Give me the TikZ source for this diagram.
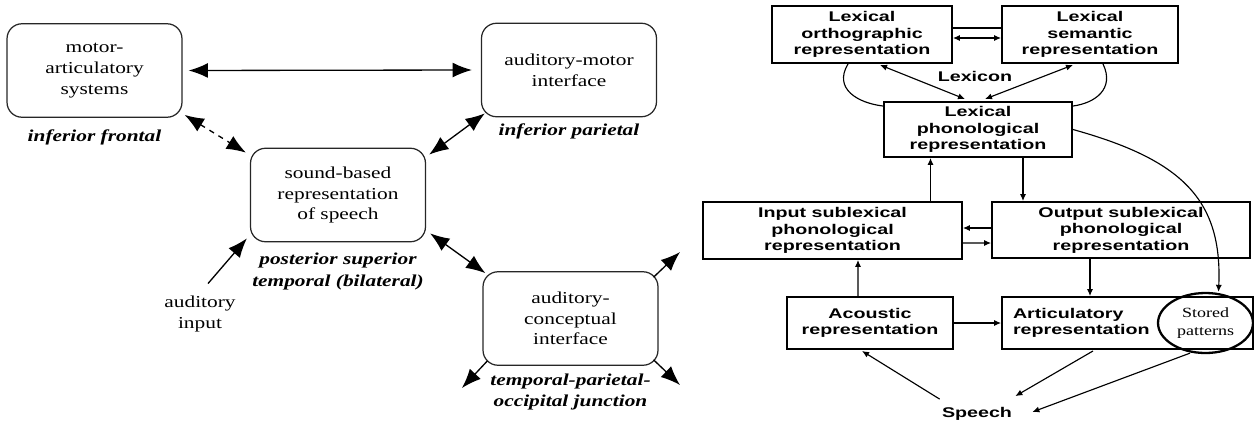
\documentclass[tikz,border=0pt]{standalone}
\usepackage{fontspec}
\setmainfont{Liberation Serif}
\newfontfamily\regfont{Liberation Serif}[FakeStretch=1.28]
\newfontfamily\modfont{Liberation Sans}[FakeStretch=1.4]
\usetikzlibrary{arrows.meta,positioning,shapes.geometric}

\begin{document}
\begin{tikzpicture}[x=0.02cm, y=-0.02cm,
  lbox/.style={rectangle, draw=black!85, line width=0.7pt, rounded corners=0.3cm,
               minimum width=3.5cm, minimum height=1.87cm, inner sep=0pt,
               font=\regfont\fontsize{9.5}{11.8}\selectfont, align=center},
  region/.style={font=\regfont\fontsize{9.5}{12.2}\selectfont\bfseries\itshape,
                 align=center, inner sep=0pt},
  plain/.style={font=\regfont\fontsize{9.5}{12}\selectfont, align=center, inner sep=0pt},
  one/.style={-{Latex[length=11pt,width=8.5pt]}, line width=0.75pt},
  both/.style={{Latex[length=11pt,width=8.5pt]}-{Latex[length=11pt,width=8.5pt]}, line width=0.75pt},
  sbox/.style={rectangle, draw, line width=1.1pt, inner sep=0pt,
               font=\modfont\fontsize{8}{9.4}\selectfont\bfseries, align=center},
  word/.style={font=\modfont\fontsize{8}{9.4}\selectfont\bfseries, inner sep=0pt},
  sarr/.style={-{Latex[length=4pt,width=3.5pt]}, line width=0.65pt},
  sboth/.style={{Latex[length=4pt,width=3.5pt]}-{Latex[length=4pt,width=3.5pt]}, line width=0.65pt}
]
\useasboundingbox (0,0) rectangle (1254,423);

% Left: regions
\node[lbox] (motor) at (94.5,70.5) {motor-\\articulatory\\systems};
\node[lbox] (audmot) at (569,70) {auditory-motor\\interface};
\node[lbox] (sound) at (338,195) {sound-based\\representation\\of speech};
\node[lbox] (audcon) at (570.5,318.5) {auditory-\\conceptual\\interface};

\node[region, below=0.23cm of motor] (motorlbl) {inferior frontal};
\node[region, below=0.13cm of audmot] (audmotlbl) {inferior parietal};
\node[region, below=0.21cm of sound] (soundlbl) {posterior superior\\temporal (bilateral)};
\node[region, below=0.15cm of audcon] (audconlbl) {temporal-parietal-\\occipital junction};
\node[plain] (audin) at (200,314) {auditory\\input};

\coordinate (outne) at (680,252);
\coordinate (outsw) at (462,388);
\coordinate (outse) at (680,385);

\draw[both] ([shift={(6,0)}]motor.east) -- ([shift={(-9,0)}]audmot.west);
\draw[both, dash pattern=on 3pt off 3pt] ([shift={(2,-3)}]motor.south east) -- ([shift={(-4,5)}]sound.north west);
\draw[both] ([shift={(4,-4)}]audmot.south west) -- ([shift={(3,7)}]sound.north east);
\draw[both] ([shift={(4,-9)}]sound.south east) -- ([shift={(3,2)}]audcon.north west);
\draw[one] ([shift={(8,-12)}]audin.north) -- ([shift={(-3,-4)}]sound.south west);
\draw[one] ([shift={(-5,6)}]audcon.north east) -- (outne);
\draw[one] ([shift={(5,-5)}]audcon.south west) -- (outsw);
\draw[one] ([shift={(-5,-6)}]audcon.south east) -- (outse);

% Right: lexicon and sublexical levels
\node[sbox, minimum width=3.6cm, minimum height=1.14cm] (orth) at (862,34.5) {Lexical\\orthographic\\representation};
\node[sbox, minimum width=3.52cm, minimum height=1.14cm] (sem) at (1090,34.5) {Lexical\\semantic\\representation};
\node[word] (lexicon) at (975,76) {Lexicon};
\node[sbox, minimum width=3.76cm, minimum height=1.1cm] (phon) at (978,129.5) {Lexical\\phonological\\representation};
\node[sbox, minimum width=5.18cm, minimum height=1.14cm] (insub) at (832.5,230.5) {Input sublexical\\phonological\\representation};
\node[sbox, minimum width=5.16cm, minimum height=1.12cm] (outsub) at (1121,230) {Output sublexical\\phonological\\representation};
\node[sbox, minimum width=3.32cm, minimum height=1.04cm] (acou) at (870,323) {Acoustic\\representation};
\node[sbox, minimum height=1.04cm, inner xsep=0.22cm, text width=4.58cm, align=left] (artic) at (1127.5,323) {Articulatory\\representation};
\node[ellipse, draw, line width=1.3pt, minimum width=1.9cm, minimum height=1.2cm, inner sep=0pt,
      font=\regfont\fontsize{8}{10}\selectfont, align=center] (stored) at (1205.5,323) {Stored\\patterns};
\node[word] (speech) at (977,414) {Speech};

\draw[line width=0.65pt] ([shift={(0,-6.5)}]orth.east) -- ([shift={(0,-6.5)}]sem.west);
\draw[sboth] ([shift={(0,3.5)}]orth.east) -- ([shift={(0,3.5)}]sem.west);
\draw[sboth] ([shift={(18,1)}]orth.south) -- ([shift={(-13,-2)}]phon.north);
\draw[sboth] ([shift={(-17,1)}]sem.south) -- ([shift={(7,-2)}]phon.north);
\draw[line width=0.65pt] ([shift={(-14,0)}]orth.south) .. controls +(-15,25) and +(-25,-3) .. ([shift={(0,5)}]phon.north west);
\draw[line width=0.65pt] ([shift={(13,0)}]sem.south) .. controls +(12,25) and +(22,-3) .. ([shift={(0,5)}]phon.north east);
\draw[sarr] (phon.east) .. controls +(108,30) and +(4,-93) .. ([shift={(13,0)}]stored.north);
\draw[sarr] ([shift={(-47.5,45)}]phon.south) -- ([shift={(-47.5,0)}]phon.south);
\draw[sarr] ([shift={(45,0)}]phon.south) -- ([shift={(-98,0)}]outsub.north);
\draw[sarr] ([shift={(0,-2)}]outsub.west) -- ([shift={(0,-2.5)}]insub.east);
\draw[sarr] ([shift={(0,12.5)}]insub.east) -- ([shift={(0,13)}]outsub.west);
\draw[sarr] ([shift={(-12,0)}]acou.north) -- ([shift={(25.5,0)}]insub.south);
\draw[sarr] (acou.east) -- (artic.west);
\draw[sarr] ([shift={(-31,0)}]outsub.south) -- ([shift={(-37.5,0)}]artic.north);
\draw[sarr] ([shift={(-2,-8)}]speech.north west) -- ([shift={(-8,1)}]acou.south);
\draw[sarr] ([shift={(-34.5,1)}]artic.south) -- ([shift={(3,-11)}]speech.north east);
\draw[sarr] ([shift={(-15.5,-1)}]stored.south) -- ([shift={(20,-2)}]speech.east);
\end{tikzpicture}
\end{document}
